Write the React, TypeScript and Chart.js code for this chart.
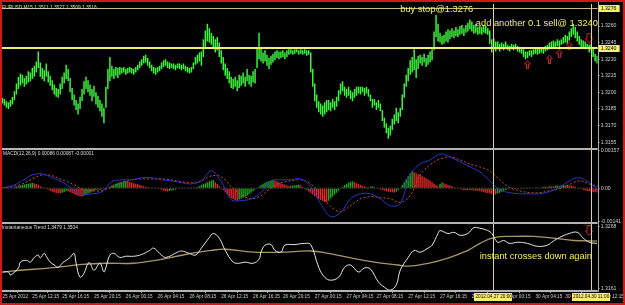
import React, { useEffect, useRef } from 'react';
import { Chart, registerables } from 'chart.js';

Chart.register(...registerables);

const SYMBOL_TITLE = 'EURUSD,M15 1.3511 1.3527 1.3509 1.3516';
const MACD_TITLE = 'MACD(12,26,9) 0.00086 0.00087 -0.00001';
const TREND_TITLE = 'Instantaneous Trend 1.3479 1.3504';

const BAR_LOW = [
  1.3190, 1.3188, 1.3186, 1.3185, 1.3187, 1.3189, 1.3193, 1.3198, 1.3203, 1.3206,
  1.3208, 1.3205, 1.3207, 1.3209, 1.3210, 1.3212, 1.3214, 1.3218, 1.3222, 1.3214,
  1.3212, 1.3210, 1.3214, 1.3209, 1.3206, 1.3202, 1.3198, 1.3196, 1.3195, 1.3198,
  1.3203, 1.3208, 1.3212, 1.3210, 1.3200, 1.3193, 1.3188, 1.3184, 1.3180, 1.3185,
  1.3192, 1.3198, 1.3203, 1.3200, 1.3197, 1.3192, 1.3196, 1.3189, 1.3186, 1.3183,
  1.3178, 1.3172, 1.3186, 1.3203, 1.3210, 1.3214, 1.3212, 1.3215, 1.3213, 1.3216,
  1.3217, 1.3218, 1.3216, 1.3217, 1.3218, 1.3217, 1.3216, 1.3218, 1.3220, 1.3222,
  1.3224, 1.3226, 1.3227, 1.3224, 1.3222, 1.3219, 1.3217, 1.3216, 1.3218, 1.3219,
  1.3221, 1.3223, 1.3224, 1.3222, 1.3221, 1.3222, 1.3221, 1.3220, 1.3222, 1.3221,
  1.3220, 1.3221, 1.3219, 1.3218, 1.3217, 1.3218, 1.3221, 1.3225, 1.3226, 1.3228,
  1.3224, 1.3232, 1.3240, 1.3246, 1.3245, 1.3243, 1.3241, 1.3236, 1.3238, 1.3232,
  1.3226, 1.3220, 1.3215, 1.3212, 1.3208, 1.3204, 1.3203, 1.3205, 1.3201, 1.3204,
  1.3206, 1.3208, 1.3205, 1.3210, 1.3207, 1.3205, 1.3209, 1.3208, 1.3222, 1.3230,
  1.3228, 1.3226, 1.3228, 1.3224, 1.3221, 1.3225, 1.3227, 1.3229, 1.3231, 1.3230,
  1.3231, 1.3232, 1.3230, 1.3232, 1.3234, 1.3235, 1.3234, 1.3235, 1.3236, 1.3234,
  1.3235, 1.3234, 1.3235, 1.3233, 1.3234, 1.3218, 1.3205, 1.3192, 1.3186, 1.3182,
  1.3180, 1.3178, 1.3180, 1.3182, 1.3184, 1.3183, 1.3186, 1.3184, 1.3187, 1.3192,
  1.3198, 1.3201, 1.3197, 1.3195, 1.3197, 1.3194, 1.3192, 1.3195, 1.3197, 1.3199,
  1.3198, 1.3200, 1.3197, 1.3199, 1.3196, 1.3192, 1.3186, 1.3188, 1.3184, 1.3186,
  1.3183, 1.3174, 1.3168, 1.3163, 1.3158, 1.3161, 1.3166, 1.3171, 1.3174, 1.3172,
  1.3178, 1.3184, 1.3195, 1.3205, 1.3210, 1.3216, 1.3218, 1.3220, 1.3213, 1.3221,
  1.3226, 1.3224, 1.3227, 1.3223, 1.3225, 1.3227, 1.3229, 1.3238, 1.3250, 1.3246,
  1.3245, 1.3243, 1.3244, 1.3246, 1.3245, 1.3248, 1.3250, 1.3249, 1.3251, 1.3250,
  1.3252, 1.3253, 1.3251, 1.3254, 1.3255, 1.3257, 1.3255, 1.3253, 1.3254, 1.3252,
  1.3253, 1.3252, 1.3254, 1.3253, 1.3252, 1.3244, 1.3236, 1.3239, 1.3237, 1.3239,
  1.3237, 1.3239, 1.3238, 1.3240, 1.3238, 1.3237, 1.3239, 1.3238, 1.3239, 1.3237,
  1.3236, 1.3235, 1.3232, 1.3230, 1.3231, 1.3233, 1.3232, 1.3234, 1.3235, 1.3234,
  1.3235, 1.3236, 1.3235, 1.3237, 1.3238, 1.3239, 1.3240, 1.3241, 1.3240, 1.3242,
  1.3241, 1.3243, 1.3244, 1.3245, 1.3244, 1.3247, 1.3250, 1.3252, 1.3249, 1.3246,
  1.3243, 1.3240, 1.3241, 1.3239, 1.3240, 1.3236, 1.3238, 1.3232, 1.3228, 1.3226,
];

const BAR_HIGH = [
  1.3195, 1.3194, 1.3192, 1.3191, 1.3193, 1.3196, 1.3201, 1.3208, 1.3214, 1.3217,
  1.3216, 1.3213, 1.3215, 1.3219, 1.3218, 1.3222, 1.3224, 1.3228, 1.3237, 1.3227,
  1.3222, 1.3220, 1.3226, 1.3219, 1.3215, 1.3211, 1.3207, 1.3204, 1.3203, 1.3208,
  1.3214, 1.3218, 1.3225, 1.3221, 1.3213, 1.3204, 1.3198, 1.3193, 1.3190, 1.3196,
  1.3203, 1.3210, 1.3214, 1.3211, 1.3207, 1.3203, 1.3206, 1.3200, 1.3197, 1.3193,
  1.3190, 1.3186, 1.3205, 1.3221, 1.3232, 1.3224, 1.3221, 1.3223, 1.3222, 1.3223,
  1.3222, 1.3223, 1.3221, 1.3222, 1.3223, 1.3222, 1.3221, 1.3223, 1.3225, 1.3228,
  1.3230, 1.3233, 1.3234, 1.3231, 1.3228, 1.3225, 1.3223, 1.3222, 1.3223, 1.3224,
  1.3227, 1.3229, 1.3230, 1.3228, 1.3227, 1.3226, 1.3226, 1.3225, 1.3226, 1.3226,
  1.3225, 1.3226, 1.3224, 1.3223, 1.3222, 1.3223, 1.3227, 1.3232, 1.3234, 1.3236,
  1.3237, 1.3248, 1.3256, 1.3262, 1.3258, 1.3254, 1.3251, 1.3248, 1.3250, 1.3245,
  1.3238, 1.3232, 1.3226, 1.3222, 1.3219, 1.3214, 1.3212, 1.3214, 1.3211, 1.3216,
  1.3215, 1.3218, 1.3214, 1.3221, 1.3216, 1.3215, 1.3219, 1.3221, 1.3240, 1.3254,
  1.3240, 1.3236, 1.3238, 1.3234, 1.3231, 1.3233, 1.3235, 1.3237, 1.3238, 1.3237,
  1.3237, 1.3238, 1.3236, 1.3238, 1.3239, 1.3239, 1.3238, 1.3239, 1.3239, 1.3238,
  1.3239, 1.3238, 1.3239, 1.3238, 1.3238, 1.3236, 1.3221, 1.3208, 1.3198, 1.3192,
  1.3190, 1.3188, 1.3191, 1.3193, 1.3193, 1.3191, 1.3194, 1.3192, 1.3196, 1.3202,
  1.3208, 1.3210, 1.3205, 1.3203, 1.3205, 1.3202, 1.3200, 1.3203, 1.3205, 1.3205,
  1.3205, 1.3205, 1.3204, 1.3205, 1.3203, 1.3198, 1.3194, 1.3194, 1.3191, 1.3193,
  1.3190, 1.3184, 1.3177, 1.3172, 1.3168, 1.3170, 1.3176, 1.3180, 1.3186, 1.3182,
  1.3186, 1.3198, 1.3208, 1.3216, 1.3222, 1.3229, 1.3232, 1.3239, 1.3230, 1.3233,
  1.3234, 1.3232, 1.3235, 1.3231, 1.3234, 1.3237, 1.3239, 1.3255, 1.3270, 1.3262,
  1.3254, 1.3251, 1.3252, 1.3255, 1.3257, 1.3256, 1.3258, 1.3256, 1.3259, 1.3257,
  1.3260, 1.3261, 1.3258, 1.3261, 1.3263, 1.3266, 1.3264, 1.3261, 1.3262, 1.3259,
  1.3260, 1.3259, 1.3261, 1.3260, 1.3258, 1.3256, 1.3248, 1.3249, 1.3246, 1.3246,
  1.3244, 1.3245, 1.3244, 1.3246, 1.3243, 1.3242, 1.3244, 1.3243, 1.3244, 1.3242,
  1.3241, 1.3240, 1.3239, 1.3237, 1.3237, 1.3238, 1.3238, 1.3239, 1.3240, 1.3240,
  1.3241, 1.3241, 1.3240, 1.3242, 1.3243, 1.3245, 1.3246, 1.3247, 1.3246, 1.3248,
  1.3247, 1.3248, 1.3250, 1.3252, 1.3251, 1.3255, 1.3258, 1.3262, 1.3259, 1.3255,
  1.3251, 1.3248, 1.3247, 1.3246, 1.3244, 1.3243, 1.3244, 1.3240, 1.3235, 1.3233,
];

const MACD_HIST = [
  0, 0.00001, -0.00001, 0, 0.00001, 0.00002,
  0.00004, 0.00006, 0.00008, 0.00011, 0.00013, 0.00015, 0.00017, 0.00019, 0.00021, 0.00022,
  0.0002, 0.00017, 0.00013, 0.00008, 0.00004, 0.00001,
  -0.00002, -0.00006, -0.00011, -0.00015, -0.00018, -0.0002, -0.00021, -0.00022,
  -0.00019, -0.00016, -0.00013,
  -0.00014,
  -0.00017, -0.00021, -0.00025, -0.00029, -0.00032, -0.00034, -0.00035,
  -0.00032, -0.00027, -0.00023, -0.00019, -0.00015, -0.00011,
  -0.00008, -0.00006, -0.00008, -0.00004, -0.00002, 0,
  0.00002, 0.00006, 0.00011, 0.00015, 0.00019, 0.00022, 0.00025, 0.00027, 0.00029, 0.0003,
  0.00029, 0.00026, 0.00024, 0.00021, 0.00018, 0.00016, 0.00013, 0.00011, 0.00008, 0.00006, 0.00004, 0.00003,
  0.00003, 0.00002, 0.00001, -0.00001,
  -0.00004, -0.00008, -0.00011, -0.00013, -0.00014, -0.00012,
  -0.0001, -0.00008, -0.00006, -0.00003, -0.00003, -0.00004, -0.00002, 0, 0.00002, 0.00001, 0.00003, 0.00001, 0.00003, 0.00005,
  0.00008, 0.00013, 0.00017, 0.00021, 0.00025, 0.00029, 0.00032, 0.00034,
  0.00025, 0.00017, 0.00008,
  0, -0.00008, -0.00017, -0.00025, -0.00034, -0.00042, -0.00046, -0.0005, -0.00053,
  -0.00048, -0.00044, -0.0004, -0.00036, -0.00032, -0.00025, -0.00019, -0.00013, -0.00006, 0,
  0.00006, 0.00013, 0.00019, 0.00023, 0.00027, 0.0003, 0.00033, 0.00034,
  0.00032, 0.00029, 0.00025, 0.00021, 0.00018, 0.00014, 0.00011, 0.00008,
  0.0001, 0.00011, 0.00012, 0.00013, 0.00014,
  0.00011, 0.00004, -0.00002, -0.00008, -0.00015, -0.00021, -0.00027,
  -0.00034, -0.0004, -0.00046, -0.0005, -0.00055, -0.00058, -0.0006,
  -0.00053, -0.00044, -0.00036, -0.00027, -0.00019, -0.00011, -0.00002,
  0.00006, 0.00013, 0.00019, 0.00023, 0.00027, 0.00029,
  0.00025, 0.00021, 0.00017, 0.00013, 0.00009, 0.00007, 0.00005, 0.00003,
  0.00006, 0.00008, 0.00004,
  0, -0.00004, -0.00006, -0.00008, -0.00011, -0.00013, -0.00015, -0.00016, -0.00017, -0.00018,
  -0.00015, -0.00008,
  0, 0.00013, 0.00025, 0.00038, 0.0005, 0.00063, 0.00071,
  0.00067, 0.00063, 0.00059, 0.00055, 0.0005, 0.00046, 0.00042, 0.00038, 0.00032, 0.00025, 0.00019, 0.00013, 0.00008,
  0.00017, 0.00025,
  0.00021, 0.00017, 0.00013, 0.00011, 0.00008, 0.00004, 0,
  -0.00002, -0.00004, -0.00006, -0.00008, -0.00009, -0.00008, -0.00007, -0.00009, -0.00011, -0.0001, -0.00011, -0.00013, -0.00015, -0.00017, -0.00019,
  -0.00021, -0.00023, -0.00025, -0.00026, -0.00027,
  -0.00023, -0.00019, -0.00015, -0.00011, -0.00008, -0.00005, -0.00003,
  -0.00004, -0.00003, -0.00004, -0.00002, -0.00003, -0.00001, -0.00002, 0, -0.00001, 0.00001, 0, 0.00002, 0.00001, 0.00003, 0.00002,
  0.00003, 0.00005, 0.00006, 0.00005, 0.00008, 0.00008, 0.00007, 0.0001, 0.00011, 0.00009, 0.00012, 0.00013, 0.00011, 0.00013, 0.00011, 0.00009, 0.00008, 0.00005,
  0.00002, -0.00001, -0.00004, -0.00007, -0.00009, -0.00012, -0.00013, -0.00015, -0.00016, -0.00017, -0.00018,
];

// MACD lines sampled every LINE_STEP bars
const LINE_STEP = 5;
const MACD_MAIN = [
  0.00002, 0.0001, 0.00031, 0.00056, 0.0006, 0.00044, 0.00027, -0.00003, -0.00024, -0.00024,
  -0.00015, 0.00027, 0.00035, 0.00035, 0.00044, 0.00044, 0.00035, 0.00031, 0.00023, 0.00018,
  0.00031, 0.00073, 0.00027, -0.00049, -0.00053, -0.00045, -0.00019, 0.00031, 0.00035, 0.00035,
  0.00039, 0.00006, -0.00066, -0.0012, -0.00103, -0.00045, -0.00024, -0.00024, -0.00045, -0.00074,
  -0.00066, 0.00056, 0.00102, 0.00119, 0.00144, 0.00132, 0.00111, 0.0009, 0.00069, 0.00031,
  -0.00007, -0.00019, -0.00024, -0.00024, -0.00024, -0.00015, 0.00002, 0.00031, 0.00044, 0.00023,
  -0.00011,
];
const MACD_SIGNAL = [
  0.00002, 0.00006, 0.00018, 0.00039, 0.00056, 0.00052, 0.00035, 0.00018, -0.00003, -0.00011,
  -0.00011, 0.00006, 0.00023, 0.00035, 0.00039, 0.00039, 0.00039, 0.00035, 0.00027, 0.00023,
  0.00031, 0.00052, 0.00048, 0.00006, -0.00028, -0.00045, -0.00032, 0.00002, 0.00023, 0.00031,
  0.00035, 0.00018, -0.00024, -0.00078, -0.00099, -0.00074, -0.00045, -0.00036, -0.0004, -0.00045,
  -0.00061, -0.00032, 0.00056, 0.00098, 0.00123, 0.00132, 0.00119, 0.00102, 0.0009, 0.00073,
  0.00035, 0.00002, -0.00011, -0.00019, -0.00019, -0.00011, -0.00003, 0.00014, 0.00031, 0.00018,
  0.00006,
];
const MACD_ZERO = 0;

const TREND_FAST_BARS = [
  0, 3, 4, 8, 9, 12, 14, 16, 18, 19, 21, 22, 24, 26, 28, 30, 34, 36, 37, 39,
  41, 43, 44, 46, 49, 51, 52, 54, 56, 59, 62, 66, 70, 74, 76, 79, 82, 88, 90, 94,
  97, 100, 104, 106, 109, 112, 116, 119, 122, 126, 129, 130, 132, 135, 137, 140, 142, 147, 152, 155,
  159, 162, 165, 169, 172, 175, 179, 182, 185, 189, 192, 195, 198, 200, 204, 207, 210, 214, 216, 219,
  220, 224, 227, 230, 234, 237, 240, 244, 246, 249, 252, 255, 259, 264, 269, 274, 277, 280, 285, 289,
  292, 295, 299,
];
const TREND_FAST = [
  1.3190, 1.3190, 1.3185, 1.3197, 1.3207, 1.3210, 1.3207, 1.3215, 1.3219, 1.3214,
  1.3222, 1.3217, 1.3207, 1.3202, 1.3198, 1.3205, 1.3215, 1.3222, 1.3205, 1.3181,
  1.3188, 1.3205, 1.3205, 1.3193, 1.3205, 1.3190, 1.3198, 1.3219, 1.3222, 1.3215,
  1.3217, 1.3217, 1.3220, 1.3227, 1.3231, 1.3222, 1.3215, 1.3224, 1.3226, 1.3222,
  1.3219, 1.3231, 1.3249, 1.3256, 1.3248, 1.3227, 1.3207, 1.3205, 1.3207, 1.3205,
  1.3212, 1.3224, 1.3236, 1.3237, 1.3227, 1.3224, 1.3236, 1.3237, 1.3239, 1.3237,
  1.3198, 1.3181, 1.3176, 1.3181, 1.3198, 1.3202, 1.3190, 1.3197, 1.3195, 1.3173,
  1.3164, 1.3159, 1.3168, 1.3193, 1.3215, 1.3227, 1.3224, 1.3231, 1.3236, 1.3256,
  1.3261, 1.3256, 1.3258, 1.3253, 1.3256, 1.3266, 1.3265, 1.3261, 1.3256, 1.3241,
  1.3244, 1.3239, 1.3241, 1.3239, 1.3234, 1.3236, 1.3243, 1.3249, 1.3256, 1.3258,
  1.3248, 1.3241, 1.3239,
];
const TREND_SLOW_BARS = [
  0, 9, 24, 40, 52, 66, 77, 92, 105, 112, 126, 140, 155, 164, 174, 187, 199, 204, 214, 224,
  234, 240, 247, 257, 267, 277, 287, 299,
];
const TREND_SLOW = [
  1.3190, 1.3193, 1.3197, 1.3203, 1.3205, 1.3205, 1.3210, 1.3220, 1.3227, 1.3229,
  1.3224, 1.3224, 1.3226, 1.3222, 1.3215, 1.3207, 1.3202, 1.3200, 1.3205, 1.3214,
  1.3227, 1.3239, 1.3249, 1.3251, 1.3251, 1.3248, 1.3244, 1.3243,
];

const PRICE_TICKS = [1.326, 1.3245, 1.323, 1.3215, 1.32, 1.3185, 1.317, 1.3155];
const MACD_TICKS = [0.00157, 0, -0.00141];
const MACD_TICK_LABELS = ['0.00157', '0.00', '-0.00141'];
const TREND_TICKS = [1.3268, 1.3161];

const TIME_TICK_BARS = [0, 15, 30, 46, 62, 78, 94, 110, 126, 141, 157, 173, 188, 204, 220, 236, 252, 268, 283, 299];
const TIME_TICK_LABELS = [
  '25 Apr 2012', '25 Apr 12:15', '25 Apr 16:15', '25 Apr 20:15', '26 Apr 00:15', '26 Apr 04:15',
  '26 Apr 08:15', '26 Apr 12:15', '26 Apr 16:15', '26 Apr 20:15', '27 Apr 00:15', '27 Apr 04:15',
  '27 Apr 08:15', '27 Apr 12:15', '27 Apr 16:15', '27 Apr 20:15', '30 Apr 00:15', '30 Apr 04:15',
  '30 Apr 08:15', '30 Apr 12:15',
];

const BUY_STOP_PRICE = 1.3276;
const SELL_PRICE = 1.324;
const MARKER_BARS = [247, 296];
const MARKER_LABELS = ['2012.04.27 20:00', '2012.04.30 11:00'];

const UP_ARROW_BARS = [264, 275, 280, 285];
const UP_ARROW_PRICES = [1.3225, 1.323, 1.3235, 1.3242];
const DOWN_ARROW_BARS = [295];
const DOWN_ARROW_PRICES = [1.3249];
const TREND_ARROW_BARS = [295];
const TREND_ARROW_VALUES = [1.3261];

const NOTE_TEXTS = ['buy stop@1.3276', 'add another 0.1 sell@ 1.3240', 'instant crosses down again'];
const NOTE_BARS = [200, 238, 240];
const NOTE_VALUES = [1.32749, 1.32627, 1.3217];
const NOTE_AXES = ['yPrice', 'yPrice', 'yTrend'];

const FONT_FAMILY = '"Liberation Sans", Arial, sans-serif';
const TEXT_GREY = '#cfcfcf';
const HIST_UP = '#22a422';
const HIST_DOWN = '#e62626';
const ARROW_RED = '#d42a2a';

function makeArrow(up: boolean, w: number, h: number, color: string): HTMLCanvasElement {
  const c = document.createElement('canvas');
  c.width = w;
  c.height = h;
  const g = c.getContext('2d') as CanvasRenderingContext2D;
  g.strokeStyle = color;
  g.lineWidth = 1;
  const hw = w / 2;
  const head = Math.round(h * 0.45);
  const sh = Math.max(1, Math.round(w * 0.2));
  const pts: number[][] = [
    [hw, 0.5], [w - 0.5, head], [hw + sh, head], [hw + sh, h - 0.5],
    [hw - sh, h - 0.5], [hw - sh, head], [0.5, head],
  ];
  g.beginPath();
  pts.forEach((p, i) => {
    const y = up ? p[1] : h - p[1];
    if (i === 0) g.moveTo(p[0], y); else g.lineTo(p[0], y);
  });
  g.closePath();
  g.stroke();
  return c;
}

const decorPlugin = {
  id: 'mt4decor',
  beforeDraw(chart: any) {
    const { ctx, width, height } = chart;
    ctx.save();
    ctx.fillStyle = '#000000';
    ctx.fillRect(0, 0, width, height);
    ctx.restore();
  },
  afterDatasetsDraw(chart: any) {
    const { ctx, chartArea: ca, scales } = chart;
    const xs = scales.x;
    const yP = scales.yPrice;
    ctx.save();
    let py = Math.round(yP.getPixelForValue(BUY_STOP_PRICE)) + 0.5;
    ctx.strokeStyle = '#c8bc84';
    ctx.lineWidth = 1;
    ctx.beginPath();
    ctx.moveTo(ca.left, py);
    ctx.lineTo(ca.right, py);
    ctx.stroke();
    py = Math.round(yP.getPixelForValue(SELL_PRICE));
    ctx.strokeStyle = '#f2ee7a';
    ctx.lineWidth = 2;
    ctx.beginPath();
    ctx.moveTo(ca.left, py);
    ctx.lineTo(ca.right, py);
    ctx.stroke();
    ctx.strokeStyle = '#d8d2a0';
    ctx.lineWidth = 1;
    MARKER_BARS.forEach((b) => {
      const px = Math.floor(xs.getPixelForValue(b)) + 0.5;
      ctx.beginPath();
      ctx.moveTo(px, ca.top);
      ctx.lineTo(px, ca.bottom);
      ctx.stroke();
    });
    ctx.font = `9.3px ${FONT_FAMILY}`;
    ctx.fillStyle = '#f2ee62';
    ctx.textAlign = 'left';
    ctx.textBaseline = 'middle';
    NOTE_TEXTS.forEach((t, i) => {
      const sc = scales[NOTE_AXES[i]];
      ctx.fillText(t, xs.getPixelForValue(NOTE_BARS[i]), sc.getPixelForValue(NOTE_VALUES[i]));
    });
    ctx.restore();
  },
  afterDraw(chart: any) {
    const { ctx, chartArea: ca, scales, width, height } = chart;
    const yP = scales.yPrice;
    const yM = scales.yMacd;
    const yT = scales.yTrend;
    const xs = scales.x;
    ctx.save();
    ctx.fillStyle = '#b4b4b4';
    ctx.fillRect(0, Math.round(yP.bottom) - 1, ca.right, 2);
    ctx.fillRect(0, Math.round(yM.bottom) - 1, ca.right, 2);
    ctx.fillRect(0, Math.round(ca.bottom) - 1, ca.right, 2);
    ctx.fillStyle = '#a8a8a8';
    ctx.fillRect(Math.round(ca.right), 0, 1, Math.round(ca.bottom) + 1);
    ctx.font = `4.8px ${FONT_FAMILY}`;
    ctx.fillStyle = '#dddddd';
    ctx.textAlign = 'left';
    ctx.textBaseline = 'middle';
    ctx.fillText(SYMBOL_TITLE, ca.left, ca.top + 3.5);
    ctx.fillText(MACD_TITLE, ca.left + 1, yM.top + 5);
    ctx.fillText(TREND_TITLE, ca.left, yT.top + 5);
    ctx.font = `5.2px ${FONT_FAMILY}`;
    [BUY_STOP_PRICE, SELL_PRICE].forEach((p) => {
      const y = yP.getPixelForValue(p);
      ctx.fillStyle = '#f6f06c';
      ctx.fillRect(ca.right + 1, Math.round(y) - 3, 21, 7);
      ctx.fillStyle = '#000000';
      ctx.fillText(p.toFixed(4), ca.right + 3, Math.round(y) + 0.5);
    });
    ctx.font = `4.7px ${FONT_FAMILY}`;
    MARKER_BARS.forEach((b, i) => {
      const px = xs.getPixelForValue(b);
      const w = ctx.measureText(MARKER_LABELS[i]).width + 2;
      ctx.fillStyle = '#f6f06c';
      ctx.fillRect(Math.round(px - w / 2), Math.round(ca.bottom) + 2, Math.round(w), 8);
      ctx.fillStyle = '#000000';
      ctx.textAlign = 'center';
      ctx.fillText(MARKER_LABELS[i], px, Math.round(ca.bottom) + 6);
    });
    ctx.strokeStyle = '#d41818';
    ctx.lineWidth = 2;
    ctx.strokeRect(1, 1, width - 2, height - 2);
    ctx.restore();
  },
};

export default function App() {
  const canvasRef = useRef<HTMLCanvasElement | null>(null);

  useEffect(() => {
    const canvas = canvasRef.current;
    if (!canvas) return;
    document.body.style.margin = '0';
    document.body.style.background = '#000000';

    const upArrow = makeArrow(true, 7, 9, ARROW_RED);
    const downArrow = makeArrow(false, 8, 11, ARROW_RED);

    const priceBars = BAR_LOW.map((lo, i) => ({ x: i, y: [lo, BAR_HIGH[i]] }));
    const hist = MACD_HIST.map((v, i) => ({ x: i, y: v }));
    const histColors = MACD_HIST.map((v, i) => (i === 0 || v > MACD_HIST[i - 1] ? HIST_UP : HIST_DOWN));
    const macdMain = MACD_MAIN.map((v, k) => ({ x: k * LINE_STEP, y: v }));
    const macdSignal = MACD_SIGNAL.map((v, k) => ({ x: k * LINE_STEP, y: v }));
    const zeroLine = [{ x: -0.5, y: MACD_ZERO }, { x: BAR_LOW.length, y: MACD_ZERO }];
    const trendFast = TREND_FAST.map((v, i) => ({ x: TREND_FAST_BARS[i], y: v }));
    const trendSlow = TREND_SLOW.map((v, i) => ({ x: TREND_SLOW_BARS[i], y: v }));
    const upPts = UP_ARROW_BARS.map((b, i) => ({ x: b, y: UP_ARROW_PRICES[i] }));
    const downPts = DOWN_ARROW_BARS.map((b, i) => ({ x: b, y: DOWN_ARROW_PRICES[i] }));
    const trendArrowPts = TREND_ARROW_BARS.map((b, i) => ({ x: b, y: TREND_ARROW_VALUES[i] }));

    const tickFont = { family: FONT_FAMILY, size: 5.2 };
    const axisGrid = { display: true, drawOnChartArea: false, drawTicks: true, tickLength: 2, color: '#a0a0a0' };

    const chart = new Chart(canvas, {
      type: 'bar',
      data: {
        datasets: [
          { type: 'line', data: upPts, yAxisID: 'yPrice', showLine: false, pointStyle: upArrow as any, pointRadius: 4 } as any,
          { type: 'line', data: downPts, yAxisID: 'yPrice', showLine: false, pointStyle: downArrow as any, pointRadius: 4 } as any,
          { type: 'line', data: trendArrowPts, yAxisID: 'yTrend', showLine: false, pointStyle: downArrow as any, pointRadius: 4 } as any,
          { type: 'line', data: macdMain, yAxisID: 'yMacd', borderColor: '#2a36c8', borderWidth: 1, pointRadius: 0, tension: 0.35 } as any,
          { type: 'line', data: macdSignal, yAxisID: 'yMacd', borderColor: '#c84848', borderWidth: 1, borderDash: [2, 2], pointRadius: 0, tension: 0.35 } as any,
          { type: 'line', data: zeroLine, yAxisID: 'yMacd', borderColor: '#7a7a7a', borderWidth: 1, borderDash: [1, 2], pointRadius: 0 } as any,
          { type: 'bar', data: hist, yAxisID: 'yMacd', backgroundColor: histColors, borderWidth: 0, barThickness: 1.4, grouped: false, inflateAmount: 0 } as any,
          { type: 'line', data: trendFast, yAxisID: 'yTrend', borderColor: '#e6e6e6', borderWidth: 1, pointRadius: 0, tension: 0.4 } as any,
          { type: 'line', data: trendSlow, yAxisID: 'yTrend', borderColor: '#a8946a', borderWidth: 1.3, pointRadius: 0, tension: 0.4 } as any,
          { type: 'bar', data: priceBars, yAxisID: 'yPrice', backgroundColor: '#3cf23c', borderWidth: 0, barThickness: 1.5, grouped: false, inflateAmount: 0 } as any,
        ],
      },
      options: {
        animation: false,
        responsive: false,
        devicePixelRatio: 1,
        events: [],
        layout: { padding: { left: 2, top: 2, right: 0, bottom: 0 }, autoPadding: false } as any,
        plugins: { legend: { display: false }, tooltip: { enabled: false } },
        scales: {
          x: {
            type: 'linear',
            min: -0.25,
            max: BAR_LOW.length - 0.75,
            offset: false,
            afterBuildTicks: (s: any) => { s.ticks = TIME_TICK_BARS.map((v) => ({ value: v })); },
            afterFit: (s: any) => { s.height = 14; },
            grid: axisGrid,
            border: { display: false },
            ticks: {
              autoSkip: false, maxRotation: 0, minRotation: 0, align: 'start', padding: 1,
              color: TEXT_GREY, font: { family: FONT_FAMILY, size: 4.7 },
              callback: (_v: any, i: number) => TIME_TICK_LABELS[i],
            },
          } as any,
          yPrice: {
            type: 'linear', position: 'right', stack: 'panes', stackWeight: 146, weight: 1,
            min: 1.31487, max: 1.32798,
            afterBuildTicks: (s: any) => { s.ticks = PRICE_TICKS.map((v) => ({ value: v })); },
            afterFit: (s: any) => { s.width = 24; },
            grid: axisGrid, border: { display: false },
            ticks: { padding: 1, color: TEXT_GREY, font: tickFont, callback: (v: any) => Number(v).toFixed(4) },
          } as any,
          yMacd: {
            type: 'linear', position: 'right', stack: 'panes', stackWeight: 74, weight: 2,
            min: -0.00145, max: 0.00165,
            afterBuildTicks: (s: any) => { s.ticks = MACD_TICKS.map((v) => ({ value: v })); },
            afterFit: (s: any) => { s.width = 24; },
            grid: axisGrid, border: { display: false },
            ticks: { padding: 1, color: TEXT_GREY, font: tickFont, callback: (_v: any, i: number) => MACD_TICK_LABELS[i] },
          } as any,
          yTrend: {
            type: 'linear', position: 'right', stack: 'panes', stackWeight: 69, weight: 3,
            min: 1.31575, max: 1.32748,
            afterBuildTicks: (s: any) => { s.ticks = TREND_TICKS.map((v) => ({ value: v })); },
            afterFit: (s: any) => { s.width = 24; },
            grid: axisGrid, border: { display: false },
            ticks: { padding: 1, color: TEXT_GREY, font: tickFont, callback: (v: any) => Number(v).toFixed(4) },
          } as any,
        },
      },
      plugins: [decorPlugin as any],
    });

    return () => chart.destroy();
  }, []);

  return <canvas ref={canvasRef} width={625} height={305} style={{ display: 'block' }} />;
}
